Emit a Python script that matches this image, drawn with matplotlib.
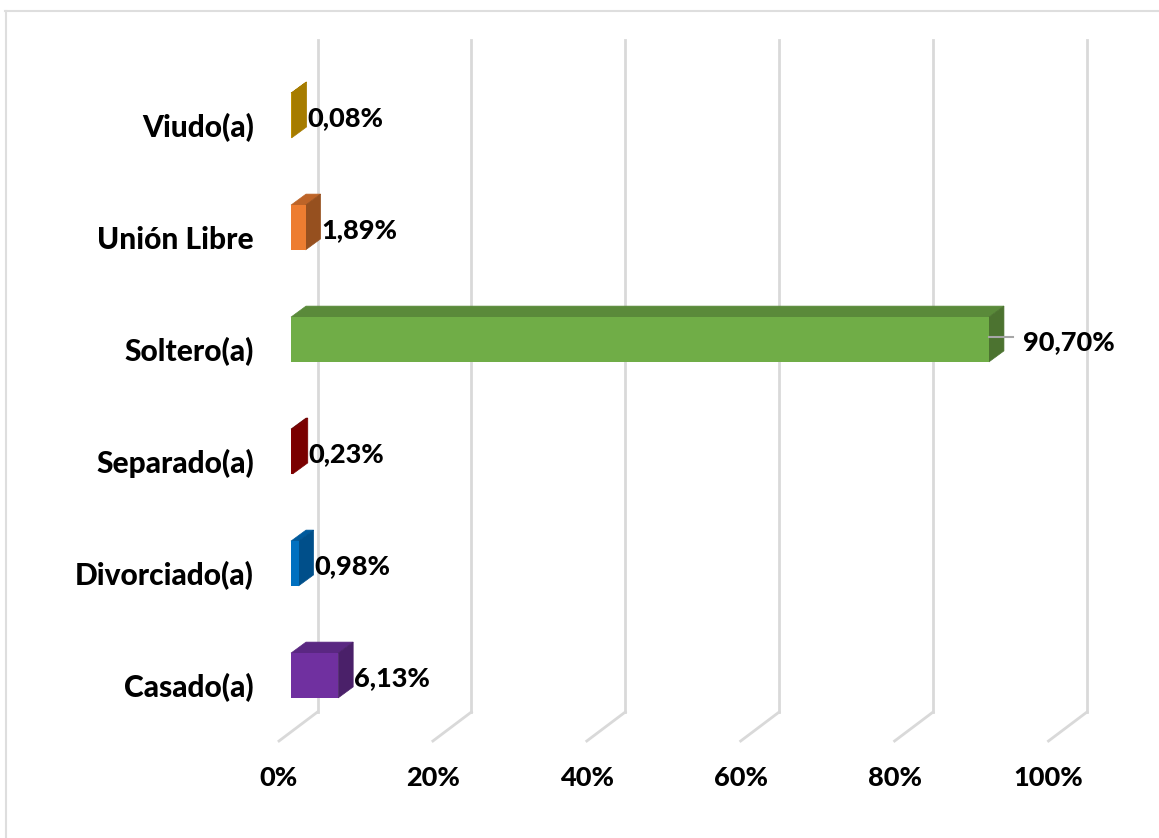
import matplotlib
matplotlib.use("Agg")
import matplotlib.pyplot as plt
from matplotlib.lines import Line2D

plt.rcParams['font.family'] = ['Lato', 'DejaVu Sans']

categories = ["Casado(a)", "Divorciado(a)", "Separado(a)", "Soltero(a)", "Unión Libre", "Viudo(a)"]
values = [6.13, 0.98, 0.23, 90.70, 1.89, 0.08]
value_labels = ["6,13%", "0,98%", "0,23%", "90,70%", "1,89%", "0,08%"]
front_colors = ["#7030a0", "#0070c0", "#800000", "#70ad47", "#ed7d31", "#bf9000"]
top_colors = ["#5a2782", "#005a9c", "#660000", "#5a8a3a", "#bd6428", "#a67c00"]
side_colors = ["#4a2069", "#004f8a", "#7a0000", "#4c7330", "#96501f", "#a67c00"]
x_ticks = [0, 20, 40, 60, 80, 100]
x_tick_labels = ["0%", "20%", "40%", "60%", "80%", "100%"]

W, H = 1159, 838
PX_PER_PCT = 7.695
PX_PER_CAT = 112.0
X0_PX, Y0_PX = 291, 675.5   # where x=0, y=0 land in the image

# 3d look, in data units
BAR_H = 0.40
DEPTH_X, DEPTH_Y = 15 / PX_PER_PCT, 11 / PX_PER_CAT
WALL_DX, FLOOR_DX = 26.5 / PX_PER_PCT, -12 / PX_PER_PCT
FLOOR_BACK, FLOOR_FRONT = (Y0_PX - 712) / PX_PER_CAT, (Y0_PX - 741) / PX_PER_CAT
WALL_TOP = (Y0_PX - 40) / PX_PER_CAT


def px_x(v):
    return X0_PX + v * PX_PER_PCT


def px_y(v):
    return Y0_PX - v * PX_PER_CAT


fig = plt.figure(figsize=(W / 100, H / 100), dpi=100)
left, right = px_x(FLOOR_DX), px_x(108)
top, bottom = px_y(WALL_TOP), px_y(FLOOR_FRONT)
ax = fig.add_axes([left / W, 1 - bottom / H, (right - left) / W, (bottom - top) / H])
ax.set_xlim(FLOOR_DX, 108)
ax.set_ylim(FLOOR_FRONT, WALL_TOP)
for s in ax.spines.values():
    s.set_visible(False)

# back wall and floor lines
for t in x_ticks:
    ax.plot([t + WALL_DX, t + WALL_DX], [FLOOR_BACK, WALL_TOP], color="#d9d9d9", lw=2, zorder=1, clip_on=False)
    ax.plot([t + FLOOR_DX, t + WALL_DX], [FLOOR_FRONT, FLOOR_BACK], color="#d9d9d9", lw=2, zorder=1, clip_on=False)

ypos = list(range(len(categories)))
for i, y in enumerate(ypos):
    v = values[i]
    lo, hi = y - BAR_H / 2, y + BAR_H / 2
    ax.fill([0, DEPTH_X, v + DEPTH_X, v], [hi, hi + DEPTH_Y, hi + DEPTH_Y, hi],
            color=top_colors[i], lw=0.5, zorder=3, clip_on=False)
    ax.fill([v, v + DEPTH_X, v + DEPTH_X, v], [lo, lo + DEPTH_Y, hi + DEPTH_Y, hi],
            color=side_colors[i], lw=0.5, zorder=3, clip_on=False)
    ax.barh(y, v, height=BAR_H, color=front_colors[i], zorder=4, clip_on=False)

    if v > 50:
        # big bar gets a leader line to its label
        ax.plot([v, v + 24 / PX_PER_PCT], [y + 0.02, y + 0.02], color="#a6a6a6", lw=1.5, zorder=5)
        lx = v + 34 / PX_PER_PCT
    else:
        lx = v + DEPTH_X + 1 / PX_PER_PCT
    ax.text(lx, y - 0.022, value_labels[i], fontsize=19.5, fontweight="black", color="black",
            va="center", ha="left", zorder=6)

ax.set_xticks([t + FLOOR_DX for t in x_ticks], x_tick_labels)
ax.set_yticks([y - 0.085 for y in ypos], categories)
ax.tick_params(axis="x", length=0, pad=18, labelsize=19.5)
ax.tick_params(axis="y", length=0, pad=18, labelsize=21.5)
for lab in ax.get_xticklabels() + ax.get_yticklabels():
    lab.set_fontweight("black")

# outer frame, only top and left show
fig.add_artist(Line2D([5.5 / W, 5.5 / W], [0, 1 - 11 / H], color="#dedede", lw=1.5))
fig.add_artist(Line2D([5 / W, 1], [1 - 11 / H, 1 - 11 / H], color="#dedede", lw=1.5))

fig.savefig("out.png", dpi=100, facecolor="white")
